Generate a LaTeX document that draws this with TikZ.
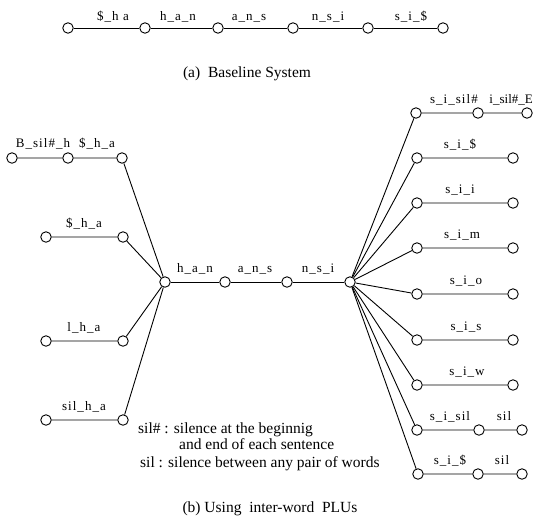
\documentclass[tikz,border=0pt]{standalone}
\usepackage{fontspec}
\setmainfont{Liberation Serif}
\newfontfamily\labfont[LetterSpace=8]{Liberation Serif}
\begin{document}
\begin{tikzpicture}[x=1pt,y=-1pt,
  st/.style={circle,draw,line width=0.9pt,minimum size=10.5pt,inner sep=0pt,fill=white},
  arc/.style={line width=0.9pt},
  lab/.style={font=\labfont\fontsize{13}{14}\selectfont,inner sep=0pt,anchor=base},
  captext/.style={font=\fontsize{15.5}{17}\selectfont,inner sep=0pt,anchor=base},
  txt/.style={font=\fontsize{15.5}{17}\selectfont,inner sep=0pt,anchor=base west}]
\useasboundingbox (0,0) rectangle (534,517);

% (a) baseline chain
\foreach \i/\x in {0/68,1/145,2/218,3/293,4/368,5/443}
  \node[st] (a\i) at (\x,28) {};
\draw[arc] (a0)--(a1) (a1)--(a2) (a2)--(a3) (a3)--(a4) (a4)--(a5);
\node[lab] (la1) at (113,20) {\$\_h a};
\node[lab] (la2) at (178,20) {h\_a\_n};
\node[lab] (la3) at (249,20) {a\_n\_s};
\node[lab] (la4) at (328,20) {n\_s\_i};
\node[lab] (la5) at (411,20) {s\_i\_\$};
\node[captext] (capa) at (247,77) {(a)\ \ Baseline System};

% (b) hubs and middle chain
\node[st] (hl) at (165,282) {};
\node[st] (m1) at (225,282) {};
\node[st] (m2) at (287,282) {};
\node[st] (hr) at (350,282) {};
\draw[arc] (hl)--(m1) (m1)--(m2) (m2)--(hr);
\node[lab] (lm1) at (195,272) {h\_a\_n};
\node[lab] (lm2) at (255,272) {a\_n\_s};
\node[lab] (lm3) at (318,272) {n\_s\_i};

% left branches
\node[st] (b0) at (12,158) {};
\node[st] (b1) at (68,158) {};
\node[st] (b2) at (122,158) {};
\draw[arc] (b0)--(b1) (b1)--(b2) (b2)--(hl);
\node[lab] (lb1) at (43,147) {B\_sil\#\_h};
\node[lab] (lb2) at (97,147) {\$\_h\_a};

\node[st] (c0) at (46,237) {};
\node[st] (c1) at (123,237) {};
\draw[arc] (c0)--(c1) (c1)--(hl);
\node[lab] (lc) at (84,227) {\$\_h\_a};

\node[st] (d0) at (46,341) {};
\node[st] (d1) at (123,341) {};
\draw[arc] (d0)--(d1) (d1)--(hl);
\node[lab] (ld) at (84,331) {l\_h\_a};

\node[st] (e0) at (46,420) {};
\node[st] (e1) at (123,420) {};
\draw[arc] (e0)--(e1) (e1)--(hl);
\node[lab] (le) at (84,410) {sil\_h\_a};

% right branches
\node[st] (r0) at (416,113) {};
\node[st] (r0b) at (478,113) {};
\node[st] (r0c) at (527,113) {};
\draw[arc] (hr)--(r0) (r0)--(r0b) (r0b)--(r0c);
\node[lab,anchor=base east] (lr0a) at (478,103) {s\_i\_sil\#};
\node[lab,anchor=base east,font=\fontsize{13}{14}\selectfont] (lr0b) at (533,103) {i\_sil\#\_E};

\foreach \n/\y/\t/\lx in {1/158/s\_i\_\$/460,2/203/s\_i\_i/460,3/248/s\_i\_m/462,4/294/s\_i\_o/466,5/340/s\_i\_s/466,6/385/s\_i\_w/467}{
  \node[st] (r\n) at (417,\y) {};
  \node[st] (r\n b) at (513,\y) {};
  \draw[arc] (hr)--(r\n) (r\n)--(r\n b);
  \node[lab] (lr\n) at (\lx,\y-10) {\t};
}

\node[st] (r7) at (417,430) {};
\node[st] (r7b) at (479,430) {};
\node[st] (r7c) at (522,430) {};
\draw[arc] (hr)--(r7) (r7)--(r7b) (r7b)--(r7c);
\node[lab] (lr7a) at (450,420) {s\_i\_sil};
\node[lab] (lr7b) at (504,420) {sil};

\node[st] (r8) at (418,474) {};
\node[st] (r8b) at (478,474) {};
\node[st] (r8c) at (522,474) {};
\draw[arc] (hr)--(r8) (r8)--(r8b) (r8b)--(r8c);
\node[lab] (lr8a) at (450,464) {s\_i\_\$};
\node[lab] (lr8b) at (502,464) {sil};

% legend and caption
\node[txt] (g1) at (138,433) {sil\# : silence at the beginnig};
\node[txt] (g2) at (179,449) {and end of each sentence};
\node[txt] (g3) at (140,467) {sil : silence between any pair of words};
\node[captext] (capb) at (270,512) {(b) Using\ \ inter-word\ \ PLUs};
\end{tikzpicture}
\end{document}
